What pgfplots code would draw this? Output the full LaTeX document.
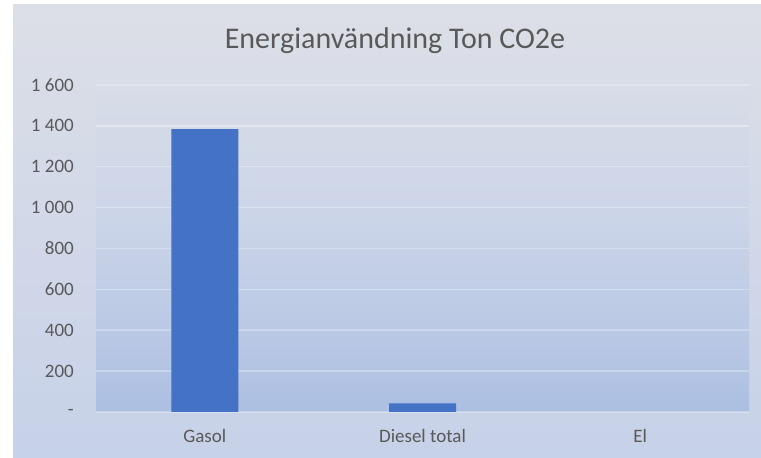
\documentclass[border=0pt]{standalone}
\usepackage{pgfplots}
\pgfplotsset{compat=1.18}
\usepackage{fontspec}
\setmainfont{Carlito}

\definecolor{barblue}{RGB}{68,114,196}
\definecolor{labelgray}{RGB}{89,89,89}
\definecolor{pbTop}{RGB}{229,229,229}
\definecolor{pbMid}{RGB}{204,213,232}
\definecolor{pbDark}{RGB}{169,189,225}
\definecolor{pbBot}{RGB}{194,210,236}
\definecolor{obTop}{RGB}{230,230,230}
\definecolor{obMid}{RGB}{210,216,232}
\definecolor{obBot}{RGB}{186,203,233}

\pgfdeclareverticalshading{plotbg}{100bp}{%
  color(0bp)=(pbBot); color(22bp)=(pbDark); color(55bp)=(pbMid); color(100bp)=(pbTop)}
\pgfdeclareverticalshading{outerbg}{100bp}{%
  color(0bp)=(obBot); color(50bp)=(obMid); color(100bp)=(obTop)}

\begin{document}
\begin{tikzpicture}[x=1pt,y=1pt]
% page and chart area
\fill[white] (0,0) rectangle (761,458);
\shade[shading=outerbg] (13,0) rectangle (761,453);
\node[font=\fontsize{30}{35}\selectfont, text=labelgray, anchor=base] at (395,409) {Energianvändning Ton CO2e};

\begin{axis}[
    at={(96pt,46pt)}, anchor=south west,
    scale only axis,
    width=653pt, height=327pt,
    ybar, bar width=67pt,
    xmin=-0.5, xmax=2.5,
    ymin=0, ymax=1600,
    xtick={0,1,2},
    xticklabels={Gasol, Diesel total, El},
    ytick={0,200,...,1600},
    yticklabels={-\hspace{11pt}, 200, 400, 600, 800, 1 000, 1 200, 1 400, 1 600},
    major tick length=0pt,
    axis line style={draw=none},
    axis background/.style={shading=plotbg},
    ymajorgrids,
    grid style={white, opacity=0.3, line width=1.5pt},
    ticklabel style={font=\fontsize{19}{22}\selectfont, text=labelgray},
    yticklabel style={anchor=east, inner sep=0pt, xshift=-22pt},
    xticklabel style={anchor=north, inner sep=0pt, yshift=-17pt},
    clip=false,
]
% Gasol, Diesel total (El is 0 and draws no bar)
\addplot[fill=barblue, draw=none] coordinates {(0,1384) (1,42)};
\end{axis}
\end{tikzpicture}
\end{document}
